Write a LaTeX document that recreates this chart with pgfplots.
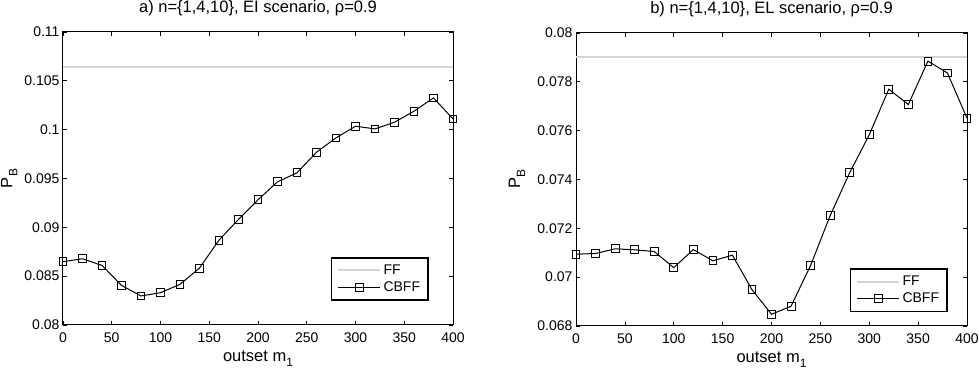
\documentclass[border=0pt]{standalone}
\usepackage{fontspec}
\setmainfont{Liberation Sans}
\usepackage{pgfplots}
\pgfplotsset{compat=1.18}

\definecolor{ffgray}{RGB}{212,212,212}

% shared look of both panels
\pgfplotsset{
  pbpanel/.style={
    scale only axis,
    width=390pt, height=293pt,
    xmin=0, xmax=400,
    xtick={0,50,...,400},
    tick align=inside, tick pos=both,
    major tick length=4pt,
    axis line style={line width=1pt},
    every tick/.style={black, line width=0.7pt},
    /pgf/number format/assume math mode=true,
    tick label style={font=\fontsize{14}{16}\selectfont},
    xticklabel style={anchor=base, yshift=-18pt},
    scaled y ticks=false,
    yticklabel style={/pgf/number format/fixed, /pgf/number format/precision=3},
    xlabel={outset m\raisebox{-0.55ex}{\fontsize{12}{13}\selectfont 1}},
    ylabel={P\raisebox{-0.55ex}{\fontsize{12}{13}\selectfont B}},
    label style={font=\fontsize{16.5}{18}\selectfont},
    xlabel style={at={(axis description cs:0.5,0)}, anchor=base, yshift=-37pt},
    title style={font=\fontsize{16.5}{18}\selectfont, at={(axis description cs:0.5,1)}, anchor=base, yshift=13pt},
    legend cell align=left,
    legend style={draw=black, line width=1.5pt, fill=white,
      font=\fontsize{14}{16}\selectfont, inner xsep=6pt, inner ysep=5pt,
      row sep=2pt},
    legend image code/.code={%
      \draw[mark repeat=2, mark phase=2, #1]
        plot coordinates {(0pt,0pt) (21pt,0pt) (42pt,0pt)};},
  },
  ffline/.style={ffgray, line width=2.2pt, no marks},
  cbffline/.style={black, line width=1pt, mark=square, mark size=3.9pt,
    mark options={solid, fill=none, line width=0.9pt}},
}

\begin{document}
\begin{tikzpicture}
\path[use as bounding box] (0pt,0pt) rectangle (979pt,371pt);

% a) EI scenario
\begin{axis}[pbpanel,
  at={(63pt,46pt)}, anchor=south west,
  ymin=0.08, ymax=0.11,
  ytick={0.08,0.085,...,0.1101},
  yticklabels={0.08,0.085,0.09,0.095,0.1,0.105,0.11},
  title={a) n=\{1,4,10\}, EI scenario, ρ=0.9},
  ylabel style={at={(axis description cs:-0.138,0.5)}, anchor=center},
  legend style={at={(axis description cs:0.938,0.082)}, anchor=south east},
]
\addplot[ffline] coordinates {(0,0.10642) (400,0.10642)};
\addlegendentry{FF}
\addplot[cbffline] coordinates {
  (0,0.08648) (20,0.08678) (40,0.08610) (60,0.08406) (80,0.08297)
  (100,0.08331) (120,0.08416) (140,0.08583) (160,0.08869) (180,0.09081)
  (200,0.09282) (220,0.09466) (240,0.09558) (260,0.09769) (280,0.09916)
  (300,0.10035) (320,0.10008) (340,0.10076) (360,0.10189) (380,0.10325)
  (400,0.10110)};
\addlegendentry{CBFF}
\end{axis}

% b) EL scenario
\begin{axis}[pbpanel,
  at={(576pt,45pt)}, anchor=south west, width=391pt,
  ymin=0.068, ymax=0.08,
  ytick={0.068,0.07,0.072,0.074,0.076,0.078,0.08},
  yticklabels={0.068,0.07,0.072,0.074,0.076,0.078,0.08},
  title={b) n=\{1,4,10\}, EL scenario, ρ=0.9},
  ylabel style={at={(axis description cs:-0.151,0.5)}, anchor=center},
  legend style={at={(axis description cs:0.951,0.047)}, anchor=south east},
]
\addplot[ffline] coordinates {(0,0.07901) (400,0.07901)};
\addlegendentry{FF}
\addplot[cbffline] coordinates {
  (0,0.07094) (20,0.07097) (40,0.07116) (60,0.07112) (80,0.07105)
  (100,0.07039) (120,0.07113) (140,0.07067) (160,0.07090) (180,0.06949)
  (200,0.06848) (220,0.06881) (240,0.07048) (260,0.07252) (280,0.07428)
  (300,0.07583) (320,0.07770) (340,0.07707) (360,0.07885) (380,0.07836)
  (400,0.07651)};
\addlegendentry{CBFF}
\end{axis}
\end{tikzpicture}
\end{document}
